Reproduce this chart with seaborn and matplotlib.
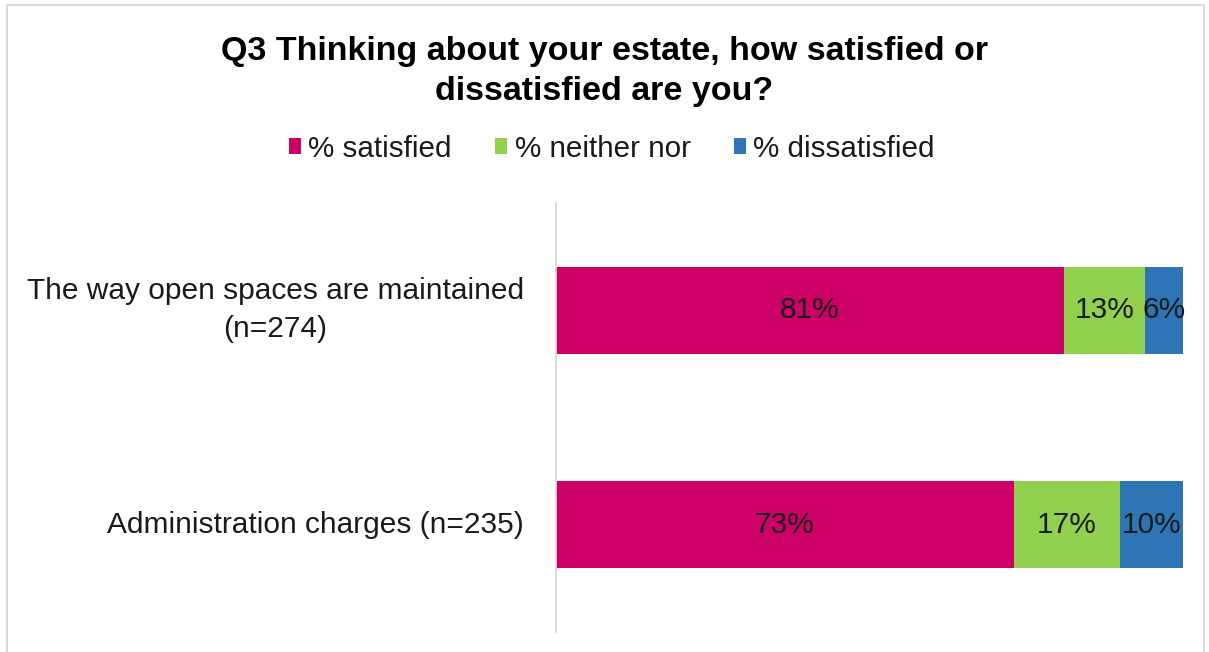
import matplotlib
matplotlib.use("Agg")
import matplotlib.pyplot as plt
import matplotlib.patches as mpatches
import numpy as np
import pandas as pd
import seaborn as sns

# Survey results (percent of respondents)
categories = ["The way open spaces are maintained\n(n=274)", "Administration charges (n=235)"]
series_names = ["% satisfied", "% neither nor", "% dissatisfied"]
satisfied = [81, 73]
neither = [13, 17]
dissatisfied = [6, 10]
colors = ["#CC0066", "#92D050", "#2E75B6"]

sns.set_theme(style="white")
plt.rcParams["font.family"] = ["Liberation Sans", "DejaVu Sans"]

fig = plt.figure(figsize=(12.09, 6.52), dpi=100)
ax = fig.add_axes([0.4599, 0.0307, 0.5186, 0.658])

values = [satisfied, neither, dissatisfied]
cum = np.cumsum(np.array(values), axis=0)  # running totals for stacking

# Draw the stacked bars back to front: each layer is a cumulative total
for i in range(len(series_names) - 1, -1, -1):
    df = pd.DataFrame({"category": categories, "total": cum[i]})
    sns.barplot(data=df, x="total", y="category", order=categories,
                color=colors[i], width=0.405, saturation=1, ax=ax,
                edgecolor="none")

# Segment labels, centred in each segment
for i in range(len(series_names)):
    for j, cat in enumerate(categories):
        left = cum[i][j] - values[i][j]
        ax.text(left + values[i][j] / 2, j, f"{values[i][j]}%",
                ha="center", va="center", fontsize=21.5, color="#1a1a1a")

ax.set_xlim(0, 100)
ax.set_xlabel("")
ax.set_ylabel("")
ax.set_xticks([])
ax.tick_params(axis="y", length=0, pad=23, labelsize=21.5, labelcolor="#1a1a1a")
for lbl in ax.get_yticklabels():
    lbl.set_multialignment("center")
    lbl.set_linespacing(1.45)
    lbl.set_verticalalignment("center")
for side in ["top", "right", "bottom"]:
    ax.spines[side].set_visible(False)
ax.spines["left"].set_color("#d9d9d9")
ax.spines["left"].set_linewidth(1.3)

# Title
fig.text(0.5, 0.890, "Q3 Thinking about your estate, how satisfied or\ndissatisfied are you?",
         ha="center", va="center", fontsize=24.5, fontweight="bold",
         color="#000000", linespacing=1.38)

# Legend
handles = [mpatches.Patch(facecolor=c, edgecolor="none") for c in colors]
fig.legend(handles, series_names, loc="center", bbox_to_anchor=(0.506, 0.772),
           ncol=3, frameon=False, fontsize=21.3, handlelength=0.42, handleheight=0.45,
           handletextpad=0.25, columnspacing=1.45, labelcolor="#1a1a1a")

# Light frame around the chart area
fig.patches.append(mpatches.Rectangle((7 / 1209, -0.02), 1197 / 1209, 0.02 + 647 / 652,
                                      transform=fig.transFigure, fill=False,
                                      edgecolor="#dcdcdc", linewidth=1.5))

fig.savefig("out.png", dpi=100)
